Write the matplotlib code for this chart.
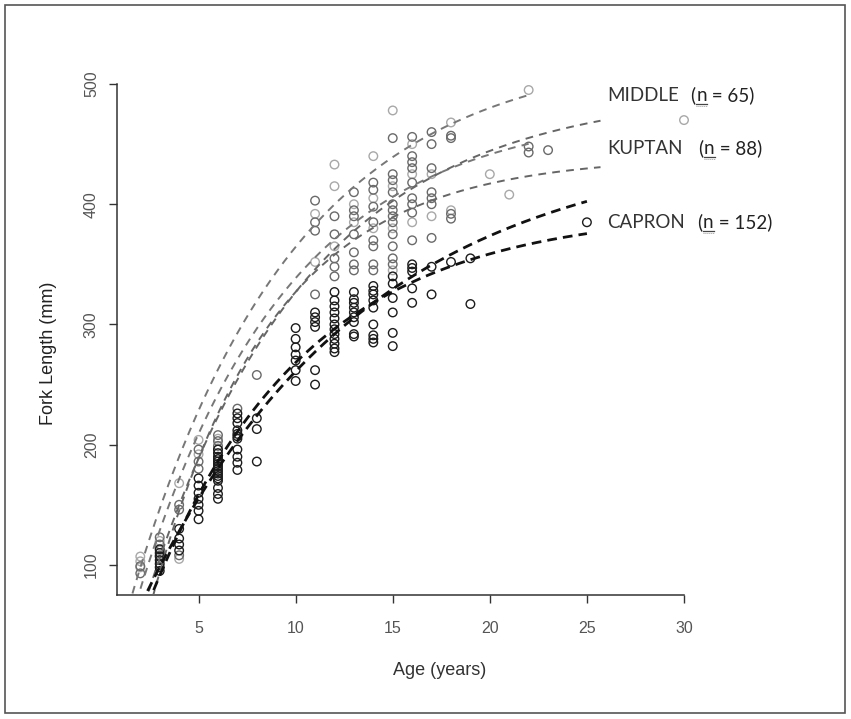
import numpy as np
import matplotlib
matplotlib.use("Agg")
import matplotlib.pyplot as plt
from matplotlib.patches import Rectangle
from matplotlib.lines import Line2D

plt.rcParams['font.family'] = ['Liberation Sans', 'DejaVu Sans']

# ---------------- data ----------------
capron_age = [3]*7 + [4]*4 + [5]*7 + [6]*16 + [7]*11 + [8]*3 + [10]*7 + [11]*6 + [12]*12 + [13]*9 + [14]*9 + [15]*6 + [16]*5 + [17]*2 + [18] + [19]*2 + [25]
capron_len = [113, 110, 107, 104, 101, 98, 95,
              130, 122, 117, 112,
              172, 166, 160, 155, 150, 145, 138,
              196, 193, 190, 188, 186, 184, 182, 180, 178, 176, 174, 172, 170, 164, 159, 155,
              226, 222, 218, 212, 209, 207, 205, 196, 190, 185, 179,
              222, 213, 186,
              297, 288, 281, 275, 270, 262, 253,
              310, 306, 302, 298, 262, 250,
              327, 320, 315, 310, 305, 300, 296, 292, 288, 284, 280, 277,
              327, 321, 318, 314, 310, 306, 302, 292, 290,
              332, 328, 325, 320, 314, 300, 291, 288, 285,
              340, 334, 322, 310, 293, 282,
              350, 347, 344, 330, 318,
              348, 325,
              352,
              355, 317,
              385]

kuptan_age = [2]*2 + [3]*3 + [4]*3 + [5]*3 + [6]*3 + [7] + [8] + [11]*4 + [12]*5 + [13]*7 + [14]*8 + [15]*12 + [16]*9 + [17]*7 + [18]*4 + [22]*2 + [23]
kuptan_len = [99, 93,
              123, 117, 108,
              150, 146, 108,
              196, 186, 180,
              208, 203, 199,
              230,
              258,
              403, 385, 378, 325,
              390, 375, 355, 348, 340,
              410, 395, 390, 375, 360, 350, 345,
              418, 412, 398, 385, 370, 365, 350, 345,
              455, 425, 420, 410, 400, 395, 390, 385, 375, 365, 355, 350,
              456, 440, 435, 430, 418, 405, 400, 393, 370,
              460, 450, 430, 410, 405, 400, 372,
              457, 455, 392, 388,
              448, 443,
              445]

middle_age = [2]*3 + [3]*2 + [4]*2 + [5]*2 + [6]*2 + [11]*2 + [12]*3 + [13]*2 + [14]*3 + [15]*4 + [16]*3 + [17]*2 + [18]*2 + [20] + [21] + [22] + [30]
middle_len = [107, 103, 98,
              120, 112,
              168, 105,
              204, 192,
              205, 196,
              352, 392,
              433, 415, 365,
              400, 385,
              440, 405, 380,
              478, 415, 380, 345,
              450, 425, 385,
              425, 390,
              468, 395,
              425,
              408,
              495,
              470]

# von Bertalanffy growth curves (Linf, K, t0, max age)
curve_group = ["MIDDLE", "MIDDLE", "KUPTAN", "KUPTAN", "CAPRON", "CAPRON"]
curve_linf = [530, 480, 495, 440, 455, 395]
curve_k = [0.12, 0.13, 0.12, 0.16, 0.087, 0.125]
curve_t0 = [0.3, 0.6, 1.0, 1.5, 0.2, 0.9]
curve_tmax = [22, 22, 25.7, 25.7, 25, 25]

labels = ["MIDDLE", "KUPTAN", "CAPRON"]
label_n = ["65", "88", "152"]

# ---------------- figure ----------------
W, H = 851, 719
fig = plt.figure(figsize=(W/100, H/100), dpi=100)

ax = fig.add_axes([117/W, 1-595/H, (684-117)/W, (595-84)/H])
ax.set_xlim(0.8, 30)
ax.set_ylim(75, 500)

col = {"CAPRON": "#1c1c1c", "KUPTAN": "#6a6a6a", "MIDDLE": "#a8a8a8"}
lw_curve = {"CAPRON": 2.0, "KUPTAN": 1.4, "MIDDLE": 1.4}
dash = {"CAPRON": (3.5, 2.2), "KUPTAN": (4, 3.2), "MIDDLE": (4, 3.2)}
curve_col = {"CAPRON": "#111111", "KUPTAN": "#666666", "MIDDLE": "#777777"}

ax.scatter(middle_age, middle_len, s=38, facecolors='none', edgecolors=col["MIDDLE"], linewidths=1.0, clip_on=False, zorder=2)
ax.scatter(kuptan_age, kuptan_len, s=38, facecolors='none', edgecolors=col["KUPTAN"], linewidths=1.0, clip_on=False, zorder=3)
ax.scatter(capron_age, capron_len, s=38, facecolors='none', edgecolors=col["CAPRON"], linewidths=1.0, clip_on=False, zorder=4)

for g, linf, k, t0, tmax in zip(curve_group, curve_linf, curve_k, curve_t0, curve_tmax):
    t = np.linspace(1.0, tmax, 300)
    L = linf * (1 - np.exp(-k * (t - t0)))
    ax.plot(t, L, linestyle=(0, dash[g]), color=curve_col[g], lw=lw_curve[g], zorder=5)

for s in ["top", "right"]:
    ax.spines[s].set_visible(False)
for s in ["left", "bottom"]:
    ax.spines[s].set_linewidth(1.1)
    ax.spines[s].set_color("#333333")

ax.set_xticks([5, 10, 15, 20, 25, 30])
ax.set_yticks([100, 200, 300, 400, 500])
ax.tick_params(axis='both', direction='out', length=6, width=1.0, colors="#333333", labelsize=11.5, labelcolor="#555555")
ax.tick_params(axis='x', pad=13)
for lab in ax.get_yticklabels():
    lab.set_rotation(90)
    lab.set_va('center')
ax.tick_params(axis='y', pad=7)

ax.set_xlabel("Age (years)", fontsize=13, color="#333333")
ax.set_ylabel("Fork Length (mm)", fontsize=13, color="#222222")
ax.xaxis.set_label_coords((440-117)/567, -(662-595)/511)
ax.yaxis.set_label_coords(-(117-57)/567, (595-353)/511)

# group labels with underlined n
fig.canvas.draw()
renderer = fig.canvas.get_renderer()
ly = [95, 148, 222]
xn = {"MIDDLE": 690, "KUPTAN": 698, "CAPRON": 697}
tfont = dict(fontsize=13.5, family=['Lato', 'DejaVu Sans'], va='baseline', ha='left')
for name, n, y in zip(labels, label_n, ly):
    base = 1 - (y + 6) / H
    fig.text(607/W, base, name, color="#333333", **tfont)
    t1 = fig.text(xn[name]/W, base, "(", color="#222222", **tfont)
    b1 = t1.get_window_extent(renderer)
    t2 = fig.text(b1.x1/W + 1/W, base, "n", color="#222222", **tfont)
    b2 = t2.get_window_extent(renderer)
    fig.text(b2.x1/W, base, " = " + n + ")", color="#222222", **tfont)
    uy = base - 3/H
    fig.add_artist(Line2D([b2.x0/W, b2.x1/W], [uy, uy], transform=fig.transFigure, color="#444444", lw=0.9))
    fig.add_artist(Line2D([b2.x0/W, b2.x1/W], [uy - 2/H, uy - 2/H], transform=fig.transFigure, color="#999999", lw=0.7, linestyle=(0, (1, 1))))

fig.add_artist(Rectangle((5/W, 1-713/H), 840/W, 708/H, transform=fig.transFigure,
                         fill=False, edgecolor="#555555", lw=1.2))

fig.savefig("out.png", dpi=100)
